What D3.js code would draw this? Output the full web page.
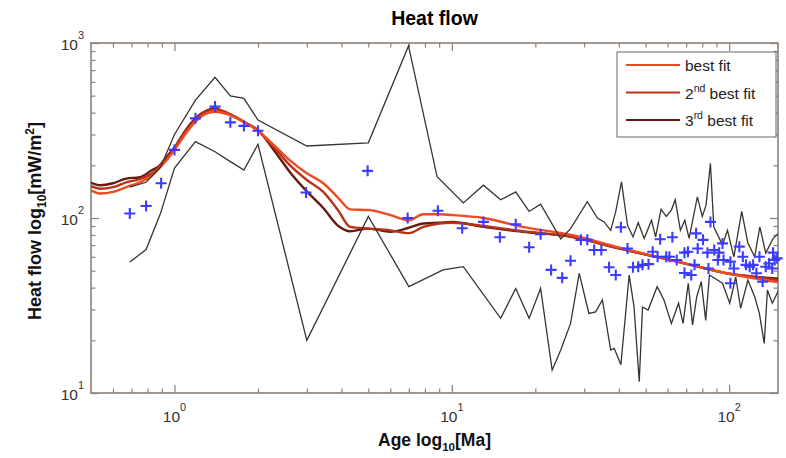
<!DOCTYPE html>
<html>
<head>
<meta charset="utf-8">
<script src="https://cdn.jsdelivr.net/npm/d3@7"></script>
<style>
  html, body { margin: 0; padding: 0; background: #fff; }
  svg { display: block; font-family: "Liberation Sans", Arial, sans-serif; }
</style>
</head>
<body>
<svg id="chart" width="786" height="458"></svg>
<script>
// ---- data ---------------------------------------------------------------
// Modelled heat-flow curves (age in Ma, heat flow in mW/m^2)
const fitAge    = [0.5, 0.54, 0.6, 0.67, 0.75, 0.83, 0.88, 0.94, 1.0, 1.1, 1.2, 1.3, 1.4, 1.5, 1.6, 1.8, 2.0, 2.3, 2.6, 3.0, 3.44, 3.9, 4.3, 5.0, 6.0, 7.0, 7.9, 9.0, 10, 13, 18, 27, 40, 60, 80, 100, 125, 150];
const bestFit   = [144, 138, 141, 150, 160, 175, 192, 215, 245, 305, 360, 395, 405, 398, 385, 350, 315, 258, 214, 180, 158, 130, 112, 111, 104, 97, 105, 105, 104, 100, 89, 80, 68, 58, 52, 48, 45, 43];
const secondFit = [152, 147, 150, 160, 167, 180, 195, 220, 250, 315, 370, 405, 418, 408, 390, 352, 316, 250, 201, 165, 141, 110, 89, 87, 85, 82, 89, 93, 94, 90, 84, 78, 67, 58, 52, 48, 46, 44];
const thirdFit  = [159, 154, 158, 168, 171, 188, 198, 225, 253, 320, 376, 410, 424, 405, 388, 350, 318, 240, 184, 142, 114, 90, 84, 87, 83.5, 88, 93, 94, 95, 89, 83.5, 78, 67, 58, 52, 48, 46, 45];

// Upper and lower bounds of the measured heat flow
const upperAge = [0.69, 0.79, 0.89, 1.0, 1.19, 1.4, 1.59, 1.78, 2.0, 3.0, 5.0, 6.98, 8.85, 11, 13, 15, 17, 19, 20.9, 24.7, 26.8, 30.8, 33.5, 35.4, 37.4, 39, 40.9, 43, 45, 47, 49.4, 52.5, 54.3, 56.8, 59.3, 61.9, 63.9, 66.7, 69.2, 71.7, 76.8, 80, 82.5, 85.6, 88, 94.6, 98.6, 104, 111, 116.8, 123.6, 129, 135.5, 144, 151];
const upperHF  = [150, 160, 195, 300, 472, 637, 498, 483, 363, 258, 269, 962, 172, 122, 154, 127, 141, 109, 120, 76, 87, 124, 100, 95, 85, 109, 161, 91, 78, 94, 76.5, 97, 78, 112, 102, 111, 127, 85, 97, 76.5, 132, 102, 118, 205, 89, 70, 85, 60, 109, 72, 60, 89, 63, 76.5, 82];
const lowerAge = [0.69, 0.79, 0.89, 1.0, 1.19, 1.4, 1.59, 1.78, 2.0, 3.0, 5.0, 7.0, 9.3, 11, 15, 17, 19, 20.9, 23, 24.7, 26.8, 28.8, 31.2, 33, 34.9, 37.4, 38.5, 40.7, 43.6, 45.4, 47.4, 48.7, 51, 55, 58.2, 61.9, 65.7, 68.2, 71.2, 73.8, 76.4, 79.3, 82.3, 84.9, 94.6, 100.5, 105.6, 110, 116.8, 123.6, 128.5, 133.8, 137.4, 143.1, 151];
const lowerHF  = [56, 66, 106, 193, 273, 239, 210, 188, 264, 20, 102, 40.5, 50.5, 52.7, 26.7, 39.6, 26.7, 39.6, 13.5, 17.6, 25, 48.3, 28.5, 29.1, 34, 17.6, 18, 14.5, 47.2, 31, 11.6, 31, 29.8, 40.5, 34, 25, 32.6, 25, 42.4, 24.5, 35.5, 43.3, 26, 47.2, 42.4, 32.6, 46, 30.5, 44.2, 35.5, 28.5, 19.2, 38.8, 32.6, 38.8];

// Measured heat flow
const obsAge = [0.69, 0.79, 0.895, 1.0, 1.19, 1.4, 1.59, 1.78, 2.0, 2.98, 4.97, 6.93, 8.91, 10.9, 13, 14.9, 17, 19, 20.9, 22.8, 25, 26.8, 29.2, 30.8, 32.6, 34.6, 36.9, 39, 40.7, 43, 45, 47, 48.7, 51.2, 53, 55.2, 56.4, 59.3, 60.9, 62.4, 64.7, 69, 69, 71, 73, 75, 76, 77, 80.5, 83.5, 84.2, 85.6, 88.3, 91, 92, 94.6, 95.4, 101, 101, 104, 108.8, 112, 115, 118.6, 122, 125.4, 128.6, 132, 135.5, 139.2, 143, 144, 146, 148.9];
const obsHF  = [106, 117, 158, 245, 371, 433, 352, 336, 315, 140, 186, 100, 110, 87.3, 95, 77.6, 92, 68, 80.7, 50.5, 45.5, 57, 75, 75, 65.6, 65.6, 52.3, 47.2, 88.5, 67, 52.3, 52.7, 54, 54.5, 64.2, 60, 75.6, 60, 60, 77.6, 57.5, 63.4, 48.5, 64.2, 47.2, 54, 81.7, 67, 75, 63.4, 51.5, 95, 65.6, 57.5, 63.4, 71.6, 57.5, 56.3, 42.4, 51.5, 68.6, 60, 54, 52.7, 54, 48.3, 60, 43.3, 52.7, 55, 51.5, 63.4, 57.5, 58.8];

// Axis ticks
const xMajor = [1, 10, 100];
const xMinor = [0.6, 0.7, 0.8, 0.9, 2, 3, 4, 5, 6, 7, 8, 9, 20, 30, 40, 50, 60, 70, 80, 90];
const yMajor = [10, 100, 1000];
const yMinor = [20, 30, 40, 50, 60, 70, 80, 90, 200, 300, 400, 500, 600, 700, 800, 900];
const xTickLabels = [{v: 1, exp: "0"}, {v: 10, exp: "1"}, {v: 100, exp: "2"}];
const yTickLabels = [{v: 10, exp: "1"}, {v: 100, exp: "2"}, {v: 1000, exp: "3"}];

// Legend entries
const legendItems = [
  {base: "", sup: "", rest: "best fit", color: "#ef4a22"},
  {base: "2", sup: "nd", rest: " best fit", color: "#b8321a"},
  {base: "3", sup: "rd", rest: " best fit", color: "#671a10"}
];

// ---- layout -------------------------------------------------------------
const svg = d3.select("#chart");
const L = 91, R = 778, T = 43, B = 393;
const axisColor = "#8a8078";

const x = d3.scaleLog().domain([0.5, 150]).range([L, R]);
const y = d3.scaleLog().domain([10, 1000]).range([B, T]);

svg.append("defs").append("clipPath").attr("id", "plot-clip")
  .append("rect").attr("x", L).attr("y", T).attr("width", R - L).attr("height", B - T);

// ---- axes ---------------------------------------------------------------
function tickAxis(axisFn, scale, values, size, transform) {
  const g = svg.append("g").attr("transform", transform)
    .call(axisFn(scale).tickValues(values).tickSize(-size).tickFormat(""));
  g.select(".domain").remove();
  g.selectAll("line").attr("stroke", axisColor).attr("stroke-width", 1.2);
  return g;
}
tickAxis(d3.axisBottom, x, xMajor, 8, `translate(0,${B})`);
tickAxis(d3.axisBottom, x, xMinor, 4.5, `translate(0,${B})`);
tickAxis(d3.axisTop, x, xMajor, 8, `translate(0,${T})`);
tickAxis(d3.axisTop, x, xMinor, 4.5, `translate(0,${T})`);
tickAxis(d3.axisLeft, y, yMajor, 8, `translate(${L},0)`);
tickAxis(d3.axisLeft, y, yMinor, 4.5, `translate(${L},0)`);
tickAxis(d3.axisRight, y, yMajor, 8, `translate(${R},0)`);
tickAxis(d3.axisRight, y, yMinor, 4.5, `translate(${R},0)`);

svg.append("rect").attr("x", L).attr("y", T).attr("width", R - L).attr("height", B - T)
  .attr("fill", "none").attr("stroke", axisColor).attr("stroke-width", 1.6);

// tick labels (powers of ten)
xTickLabels.forEach(d => {
  const t = svg.append("text").attr("x", x(d.v)).attr("y", B + 29)
    .attr("text-anchor", "middle").attr("fill", "#333").attr("font-size", 15.5);
  t.append("tspan").text("10");
  t.append("tspan").attr("dy", -11).attr("font-size", 11).text(d.exp);
});
yTickLabels.forEach(d => {
  const t = svg.append("text").attr("x", L - 7).attr("y", y(d.v) + 6.5)
    .attr("text-anchor", "end").attr("fill", "#333").attr("font-size", 15.5);
  t.append("tspan").text("10");
  t.append("tspan").attr("dy", -11).attr("font-size", 11).text(d.exp);
});

// ---- titles -------------------------------------------------------------
svg.append("text").attr("x", (L + R) / 2).attr("y", 25).attr("text-anchor", "middle")
  .attr("font-weight", "bold").attr("font-size", 19.5).attr("fill", "#000").text("Heat flow");

const xl = svg.append("text").attr("x", (L + R) / 2).attr("y", 446).attr("text-anchor", "middle")
  .attr("font-weight", "bold").attr("font-size", 17.5).attr("fill", "#111");
xl.append("tspan").text("Age log");
xl.append("tspan").attr("dy", 5).attr("font-size", 11.5).text("10");
xl.append("tspan").attr("dy", -5).text("[Ma]");

const yl = svg.append("text").attr("transform", "translate(41,221) rotate(-90)")
  .attr("text-anchor", "middle").attr("font-weight", "bold").attr("font-size", 18).attr("fill", "#111");
yl.append("tspan").text("Heat flow log");
yl.append("tspan").attr("dy", 5).attr("font-size", 12).text("10");
yl.append("tspan").attr("dy", -5).text("[mW/m");
yl.append("tspan").attr("dy", -7).attr("font-size", 12).text("2");
yl.append("tspan").attr("dy", 7).text("]");

// ---- marks --------------------------------------------------------------
const plot = svg.append("g").attr("clip-path", "url(#plot-clip)");

const smooth = d3.line().x(d => x(d[0])).y(d => y(d[1])).curve(d3.curveMonotoneX);
const straight = d3.line().x(d => x(d[0])).y(d => y(d[1]));

[[thirdFit, legendItems[2].color], [secondFit, legendItems[1].color], [bestFit, legendItems[0].color]]
  .forEach(([vals, color]) => {
    plot.append("path").datum(fitAge.map((a, i) => [a, vals[i]]))
      .attr("d", smooth).attr("fill", "none").attr("stroke", color)
      .attr("stroke-width", 2.4).attr("stroke-linejoin", "round");
  });

[[upperAge, upperHF], [lowerAge, lowerHF]].forEach(([ages, vals]) => {
  plot.append("path").datum(ages.map((a, i) => [a, vals[i]]))
    .attr("d", straight).attr("fill", "none").attr("stroke", "#3a332e")
    .attr("stroke-width", 1.3).attr("stroke-linejoin", "miter");
});

svg.append("g").selectAll("path.obs").data(obsAge.map((a, i) => [a, obsHF[i]]))
  .join("path").attr("class", "obs")
  .attr("transform", d => `translate(${x(d[0])},${y(d[1])})`)
  .attr("d", "M-5.5,0H5.5M0,-5.5V5.5")
  .attr("stroke", "#3c3cff").attr("stroke-width", 2.1).attr("fill", "none");

// ---- legend -------------------------------------------------------------
const lg = svg.append("g");
lg.append("rect").attr("x", 617).attr("y", 52).attr("width", 159).attr("height", 85)
  .attr("fill", "#fff").attr("stroke", "#666").attr("stroke-width", 1);
legendItems.forEach((d, i) => {
  const ly = 65 + i * 27.5;
  lg.append("line").attr("x1", 626).attr("x2", 680).attr("y1", ly).attr("y2", ly)
    .attr("stroke", d.color).attr("stroke-width", 2.2);
  const t = lg.append("text").attr("x", 685).attr("y", ly + 6)
    .attr("font-size", 15.5).attr("fill", "#222");
  if (d.base) {
    t.append("tspan").text(d.base);
    t.append("tspan").attr("dy", -7).attr("font-size", 10.5).text(d.sup);
    t.append("tspan").attr("dy", 7).text(d.rest);
  } else {
    t.append("tspan").text(d.rest);
  }
});
</script>
</body>
</html>
